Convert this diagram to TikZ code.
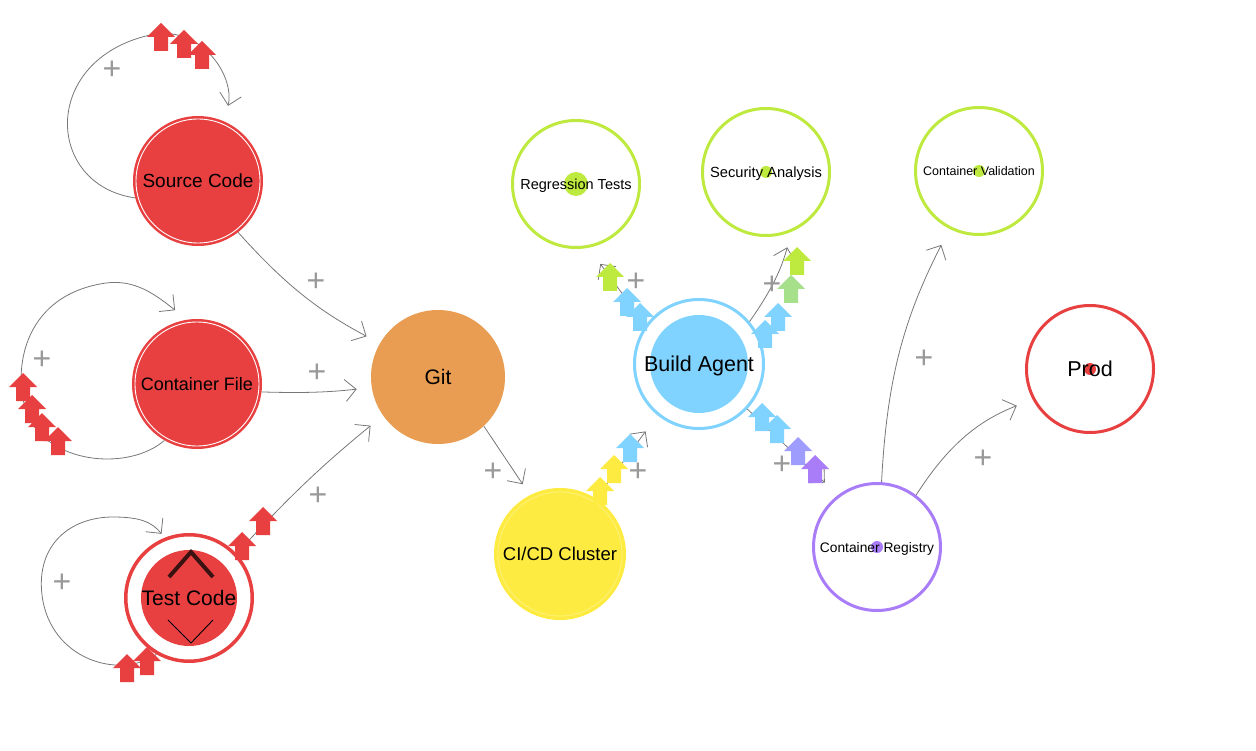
\documentclass[tikz,border=0pt]{standalone}
\usepackage{fontspec}
\setmainfont{Liberation Sans}
\usetikzlibrary{arrows.meta, calc}
\definecolor{AppRed}{HTML}{E84040}
\definecolor{GitOrange}{HTML}{E99D52}
\definecolor{CiYellow}{HTML}{FDEB42}
\definecolor{AgentBlue}{HTML}{80D3FF}
\definecolor{LimeGreen}{HTML}{BEEA3F}
\definecolor{PaleGreen}{HTML}{A6E08A}
\definecolor{Lavender}{HTML}{9E9DFE}
\definecolor{Violet}{HTML}{A97CF8}
\definecolor{EdgeGray}{HTML}{777777}
\definecolor{PlusGray}{HTML}{999999}
\definecolor{ChevDark}{HTML}{3A1212}
\newcommand{\fsz}[1]{\fontsize{#1pt}{#1pt}\selectfont}

\begin{document}
\begin{tikzpicture}[x=1pt, y=-1pt,
    edge/.style={draw=EdgeGray, line width=0.8pt,
                 -{Straight Barb[length=11pt, width=22pt]}},
    disc/.style={circle, inner sep=0pt, text depth=0pt},
    redapp/.style={disc, fill=AppRed, minimum size=130pt,
                   path picture={\draw[white, line width=0.9pt]
                     (path picture bounding box.center) circle (62pt);}},
    ring/.style={disc, draw=#1, line width=3pt, fill=white, minimum size=127pt},
    dot/.style 2 args={path picture={\fill[#1]
                 (path picture bounding box.center) circle (#2);}},
    plus/.style={text=PlusGray, font=\fsz{32}, inner sep=0pt, yshift=-2pt},
    upmark/.pic={\fill[pic actions] (-7,14) -- (-7,0) -- (-14,0) -- (0,-14)
                 -- (14,0) -- (7,0) -- (7,14) -- cycle;}
  ]
  \useasboundingbox (0,0) rectangle (1256,751);

  % sources
  \node[redapp, font=\fsz{19}] (src) at (198,181) {Source Code};
  \node[redapp, font=\fsz{18}] (cf) at (197,384) {Container File};
  \node[ring=AppRed, line width=3.5pt, minimum size=126.5pt, dot={AppRed}{48pt},
        font=\fsz{21}] (tc) at (189,598) {Test Code};
  \draw[ChevDark, line width=4pt] ($(tc)+(-20,-21)$) -- ($(tc)+(2,-46)$) -- ($(tc)+(24,-21)$);
  \draw[black, line width=0.9pt] ($(tc)+(-21,22)$) -- ($(tc)+(2,45)$) -- ($(tc)+(24,22)$);

  % pipeline
  \node[disc, fill=GitOrange, minimum size=134pt, font=\fsz{21}] (git) at (438,377) {Git};
  \node[disc, fill=CiYellow, minimum size=132pt, font=\fsz{18.5},
        path picture={\draw[white, opacity=.3, line width=0.8pt]
          (path picture bounding box.center) circle (62pt);}] (ci) at (560,554) {CI/CD Cluster};
  \node[ring=AgentBlue, minimum size=129pt, dot={AgentBlue}{49pt},
        font=\fsz{21.5}] (ba) at (699,364) {Build Agent};

  % checks and targets
  \node[ring=LimeGreen, dot={LimeGreen}{12pt}, font=\fsz{14.5}] (rt) at (576,184) {Regression Tests};
  \node[ring=LimeGreen, dot={LimeGreen}{6pt}, font=\fsz{14.7}] (sa) at (766,172) {Security Analysis};
  \node[ring=LimeGreen, dot={LimeGreen}{6pt}, font=\fsz{12.5}] (cv) at (979,171) {Container Validation};
  \node[ring=Violet, dot={Violet}{6pt}, font=\fsz{13.8}] (cr) at (877,547) {Container Registry};
  \node[ring=AppRed, dot={AppRed}{6pt}, font=\fsz{21.5}] (prod) at (1090,369) {Prod};

  % self loops
  \draw[edge, shorten >=16pt] (src.195) .. controls (45,185) and (40,60) .. (150,35)
        .. controls (200,24) and (235,75) .. (src.66);
  \draw[edge, shorten >=15pt] (cf.240) .. controls (130,470) and (55,465) .. (30,420)
        .. controls (12,385) and (15,300) .. (100,284)
        .. controls (130,278) and (150,290) .. (cf.99);
  \draw[edge, shorten >=5pt] (tc.240) .. controls (120,680) and (50,660) .. (42,595)
        .. controls (36,545) and (70,517) .. (113,517)
        .. controls (140,517) and (152,522) .. (tc.112);

  % flows
  \draw[edge, shorten >=15pt] (src.-52) to[bend right=10] (git.150);
  \draw[edge, shorten >=15pt] (cf.-7) to[bend right=4] (git.189);
  \draw[edge, shorten >=16pt] (tc.43) to[bend left=4] (git.215);
  \draw[edge, shorten >=13pt] (git.-47) -- (ci.117);
  \draw[edge, shorten >=20pt] (ci.57) -- (ba.231);
  \draw[edge, shorten >=20pt] (ba.144) -- (rt.-79);
  \draw[edge, shorten >=16pt] (ba.40) to[bend right=10] (sa.-67);
  \draw[edge, shorten >=18pt] (ba.-43) -- (cr.127);
  \draw[edge, shorten >=18pt] (cr.86) to[bend left=12] (cv.243);
  \draw[edge, shorten >=17pt] (cr.53) to[bend left=18] (prod.208);

  % plus handles
  \foreach \x/\y [count=\i] in {112/68, 42/358, 62/581, 316/280, 317/371, 318/494,
      493/470, 638/470, 636/280, 772/283, 782/463, 924/357, 983/457}
    \node[plus] (plus\i) at (\x,\y) {+};

  % token marks
  \foreach \x/\y/\c in {161/37/AppRed, 184/44/AppRed, 202/55/AppRed,
      23/387/AppRed, 32/409/AppRed, 42/427/AppRed, 58/441/AppRed,
      127/668/AppRed, 147/661/AppRed, 242/546/AppRed, 263/521/AppRed,
      600/491/CiYellow, 614/469/CiYellow, 630/448/AgentBlue,
      640/317/AgentBlue, 627/302/AgentBlue, 610/277/LimeGreen,
      765/334/AgentBlue, 778/317/AgentBlue, 791/289/PaleGreen, 797/261/LimeGreen,
      762/417/AgentBlue, 777/429/AgentBlue, 798/451/Lavender, 815/469/Violet}
    \pic[fill=\c] at (\x,\y) {upmark};
\end{tikzpicture}
\end{document}
